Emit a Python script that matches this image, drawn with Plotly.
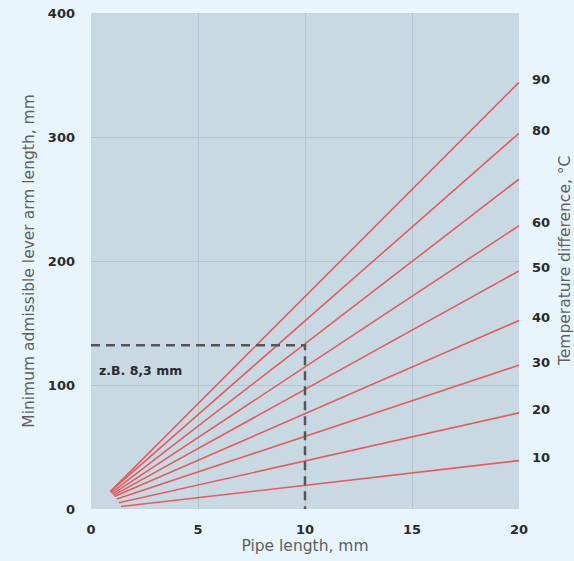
import plotly.graph_objects as go

# Temperature difference per line (°C)
temps = [10, 20, 30, 40, 50, 60, 70, 80, 90]
# Line start (pipe length, lever arm) and end value at 20 mm
start_x = [1.4, 1.3, 1.2, 1.1, 1.05, 1.0, 0.95, 0.9, 0.9]
start_y = [2, 5, 8, 10, 11, 12, 13, 14, 14]
end_x = 20
end_y = [39, 77.5, 116, 152, 192, 228.5, 266, 303, 344]
# Right-hand labels (70 is not labelled)
labelled = [10, 20, 30, 40, 50, 60, 80, 90]

# Worked example
example_x = 10
example_y = 132
example_text = "z.B. 8,3 mm"

x_ticks = [0, 5, 10, 15, 20]
y_ticks = [0, 100, 200, 300, 400]

RED = "#e45d5d"
TICK_FONT = dict(family="DejaVu Sans", size=13, color="#2b2b2b", weight="bold")
TITLE_FONT = dict(family="DejaVu Sans", size=15.5, color="#606060")

fig = go.Figure()

for t, sx, sy, ey in zip(temps, start_x, start_y, end_y):
    fig.add_trace(go.Scatter(
        x=[sx, end_x], y=[sy, ey], mode="lines",
        line=dict(color=RED, width=1.6),
        name=f"{t} °C", hoverinfo="skip",
    ))

fig.add_trace(go.Scatter(
    x=[0, example_x, example_x], y=[example_y, example_y, 0], mode="lines",
    line=dict(color="#555555", width=2.5, dash="9px,6px"),
    hoverinfo="skip",
))

annotations = []
for t, ey in zip(temps, end_y):
    if t in labelled:
        annotations.append(dict(
            x=end_x, y=ey, xref="x", yref="y", text=str(t), showarrow=False,
            xanchor="left", yanchor="middle", xshift=11, yshift=3,
            font=TICK_FONT,
        ))

annotations.append(dict(
    x=0.3, y=112, xref="x", yref="y", text=example_text, showarrow=False,
    xanchor="left", yanchor="middle",
    font=dict(family="DejaVu Sans", size=12.5, color="#2b2b2b", weight="bold"),
))

annotations.append(dict(
    x=1, y=0.5, xref="paper", yref="paper", text="Temperature difference, °C",
    showarrow=False, textangle=-90, xanchor="center", yanchor="middle",
    xshift=46, font=TITLE_FONT,
))

fig.update_layout(
    width=574, height=561,
    margin=dict(l=91, r=55, t=13, b=52),
    paper_bgcolor="#e8f5fc",
    plot_bgcolor="#c9d9e3",
    showlegend=False,
    annotations=annotations,
    xaxis=dict(
        range=[0, 20], tickvals=x_ticks, showgrid=True, gridcolor="#b3c5d1",
        gridwidth=1, zeroline=False, showline=False, ticks="", automargin=False,
        tickfont=TICK_FONT, ticklabelstandoff=11,
        title=dict(text="Pipe length, mm", font=TITLE_FONT, standoff=3),
    ),
    yaxis=dict(
        range=[0, 400], tickvals=y_ticks, showgrid=True, gridcolor="#b3c5d1",
        gridwidth=1, zeroline=False, showline=False, ticks="", automargin=False,
        tickfont=TICK_FONT, ticklabelstandoff=15,
        title=dict(text="Minimum admissible lever arm length, mm", font=TITLE_FONT, standoff=9),
    ),
)

fig.write_html("out.html")
